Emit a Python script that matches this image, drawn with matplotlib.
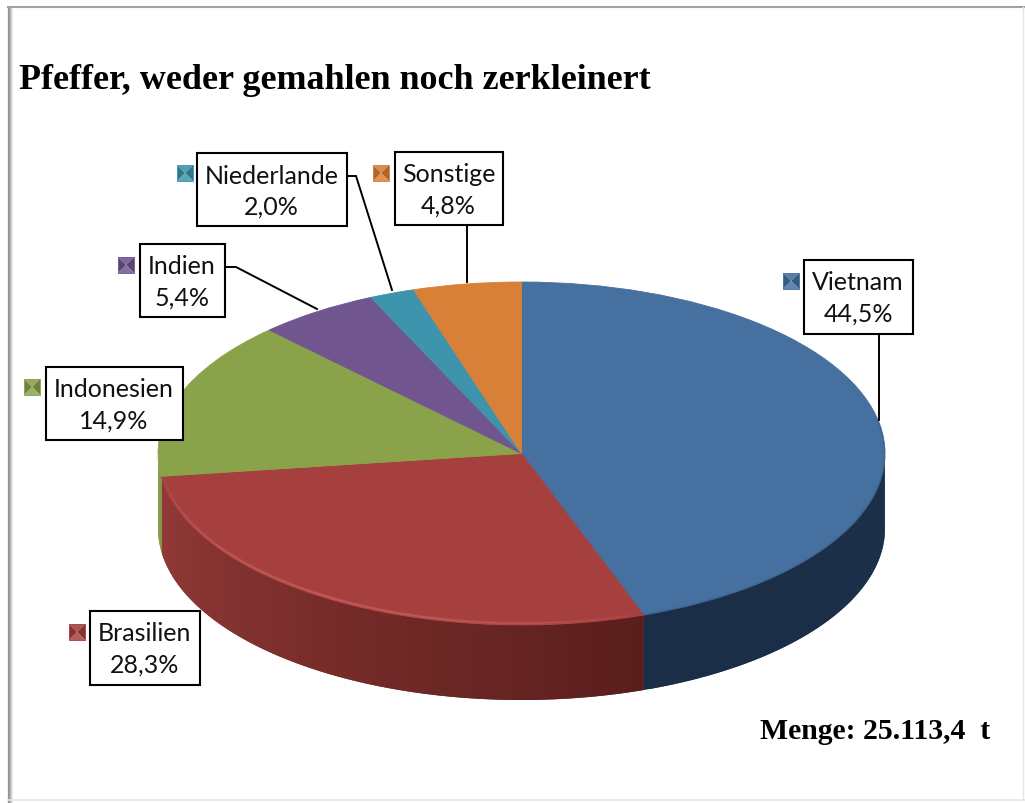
import numpy as np
import matplotlib
matplotlib.use("Agg")
import matplotlib.pyplot as plt
from matplotlib.collections import PolyCollection, LineCollection
from matplotlib.patches import Rectangle, Polygon

# ---- data ----
categories = ["Vietnam", "Brasilien", "Indonesien", "Indien", "Niederlande", "Sonstige"]
shares = [44.5, 28.3, 14.9, 5.4, 2.0, 4.8]
share_labels = ["44,5%", "28,3%", "14,9%", "5,4%", "2,0%", "4,8%"]
title_text = "Pfeffer, weder gemahlen noch zerkleinert"
total_text = "Menge: 25.113,4  t"

# ---- styles ----
top_colors = ["#45709F", "#A5403E", "#8AA34B", "#71558F", "#3F94AD", "#D87F38"]
side_start = ["#1C2F49", "#591E1C", "#7F9C47", "#5A4472", "#2E7186", "#A8622A"]
side_end = ["#1B2E47", "#933A37", "#7F9C47", "#5A4472", "#2E7186", "#A8622A"]

W, H = 1025, 804
CX, CY, RX, RY, DEPTH = 521.5, 454.5, 363.5, 171.5, 75

# (left, right, top, bottom) of the label boxes, same order as categories
boxes = [(803.5, 912.5, 260.5, 334.5), (89.5, 199.5, 611.5, 685.5), (45.5, 182.5, 367.5, 440.5),
         (139.5, 224.5, 244.5, 317.5), (196.5, 346.5, 153.5, 226.5), (394.5, 502.5, 152.5, 225.5)]
marker_xy = [(783, 274), (69, 625), (24, 380), (118, 258), (177, 166), (373, 166)]
leaders = [[(879, 334), (879, 421)], None, None,
           [(224, 268), (236, 268), (317, 310)],
           [(346, 177), (356, 177), (392, 291)],
           [(467, 225), (467, 283)]]

plt.rcParams["font.family"] = ["Lato", "DejaVu Sans"]
fig = plt.figure(figsize=(W / 100, H / 100), dpi=100, facecolor="white")

# ---- pie axes: unit circle stretched to the ellipse ----
pie_ax = fig.add_axes([(CX - RX) / W, 1 - (CY + RY) / H, 2 * RX / W, 2 * RY / H])
wedges, _ = pie_ax.pie(shares, colors=top_colors, startangle=90, counterclock=False, radius=1)
pie_ax.set_aspect("auto")
pie_ax.set_xlim(-1, 1)
pie_ax.set_ylim(-1, 1)
for w in wedges:
    w.set_edgecolor(w.get_facecolor())
    w.set_linewidth(0.6)
    w.set_zorder(5)
    w.set_clip_on(False)

d = DEPTH / RY
to_rgb = matplotlib.colors.to_rgb
for w, c0, c1 in zip(wedges, side_start, side_end):
    a = np.arange(w.theta1, w.theta2 + 1.0, 1.0)
    a = ((a + 180) % 360) - 180
    a = np.sort(a[a < 0])
    if a.size < 2:
        continue
    c0, c1 = np.array(to_rgb(c0)), np.array(to_rgb(c1))
    polys, cols = [], []
    for i in range(a.size - 1):
        # each strip overlaps the next one, which leaves no seams
        t0, t1 = np.radians(a[i]), np.radians(a[min(i + 2, a.size - 1)])
        x0, y0, x1, y1 = np.cos(t0), np.sin(t0), np.cos(t1), np.sin(t1)
        polys.append([(x0, y0), (x1, y1), (x1, y1 - d), (x0, y0 - d)])
        f = (a[-1] - a[i]) / max(a[-1] - a[0], 1e-6)
        cols.append(c0 + (c1 - c0) * f)
    pie_ax.add_collection(PolyCollection(polys, facecolors=cols, edgecolors="none",
                                         linewidths=0, zorder=3, clip_on=False))


def rim(w, color, peak, lw, inset=0.005, a_max=None, flat=False):
    a = np.arange(w.theta1, w.theta2 + 0.5, 0.5)
    if a_max is not None:
        a = a[a <= a_max]
    r = np.radians(a)
    x, y = (1 - inset) * np.cos(r), (1 - 2 * inset) * np.sin(r)
    segs = [[(x[i], y[i]), (x[i + 1], y[i + 1])] for i in range(r.size - 1)]
    rgb = to_rgb(color)
    n = len(segs)
    if flat:
        cols = [(*rgb, peak)] * n
    else:
        cols = [(*rgb, peak * np.sin(np.pi * (i + 0.5) / n) ** 0.7) for i in range(n)]
    pie_ax.add_collection(LineCollection(segs, colors=cols, linewidths=lw,
                                         zorder=6, clip_on=False))


# soft rim along the front edge of the top face
rim(wedges[1], "#C55A58", 0.35, 2.6)
rim(wedges[1], "#CC6361", 0.75, 1.0)
rim(wedges[0], "#2C4A6E", 0.3, 1.0, inset=0.001, a_max=12, flat=True)

# ---- pixel-coordinate overlay ----
ax = fig.add_axes([0, 0, 1, 1], facecolor="none")
ax.set_xlim(0, W)
ax.set_ylim(H, 0)
ax.axis("off")

# chart frame: grey left/top with soft inner shadow, faint right/bottom
for i, g in enumerate(["#929292", "#9C9C9C", "#B2B2B2", "#D2D2D2", "#ECECEC"]):
    ax.plot([7.5 + i, 7.5 + i], [8, H], color=g, lw=0.9, solid_capstyle="butt", zorder=1)
ax.plot([7, W], [8, 8], color="#A0A0A0", lw=1.5, solid_capstyle="butt", zorder=1)
ax.plot([7, W], [800.5, 800.5], color="#E6E6E6", lw=1.2, zorder=1)
ax.plot([1022.5, 1022.5], [8, 801], color="#E6E6E6", lw=1.0, zorder=1)

# leader lines
for pts in leaders:
    if pts:
        xs, ys = zip(*pts)
        ax.plot(xs, ys, color="black", lw=1.4, zorder=7, solid_joinstyle="miter")


def shade(c, f):
    c = np.array(to_rgb(c))
    return tuple(c + (1 - c) * f) if f >= 0 else tuple(c * (1 + f))


for cat, lab, col, (l, r, t, b), (mx, my) in zip(categories, share_labels, top_colors, boxes, marker_xy):
    ax.add_patch(Rectangle((l, t), r - l, b - t, fc="white", ec="black", lw=1.5, zorder=8))
    xc = (l + r) / 2
    ax.text(xc, t + 22.5, cat, ha="center", va="center", fontsize=18, color="#111111", zorder=9)
    ax.text(xc, t + 53.5, lab, ha="center", va="center", fontsize=18, color="#111111", zorder=9)
    s = 16
    mid = (mx + s / 2, my + s / 2)
    c = (mx, my), (mx + s, my), (mx + s, my + s), (mx, my + s)
    for k, f in enumerate([0.1, -0.2, 0.15, -0.2]):
        ax.add_patch(Polygon([c[k], c[(k + 1) % 4], mid], fc=shade(col, f), ec="none", zorder=8))
    ax.add_patch(Rectangle((mx, my), s, s, fc="none", ec=shade(col, 0.05), lw=0.7, zorder=8))

ax.text(19, 89, title_text, family="Liberation Serif", fontweight="bold", fontsize=25.9,
        color="black", va="baseline", ha="left", zorder=9)
ax.text(760, 739.5, total_text, family="Liberation Serif", fontweight="bold", fontsize=21.4,
        color="black", va="baseline", ha="left", zorder=9)

fig.savefig("out.png", dpi=100, facecolor="white")
